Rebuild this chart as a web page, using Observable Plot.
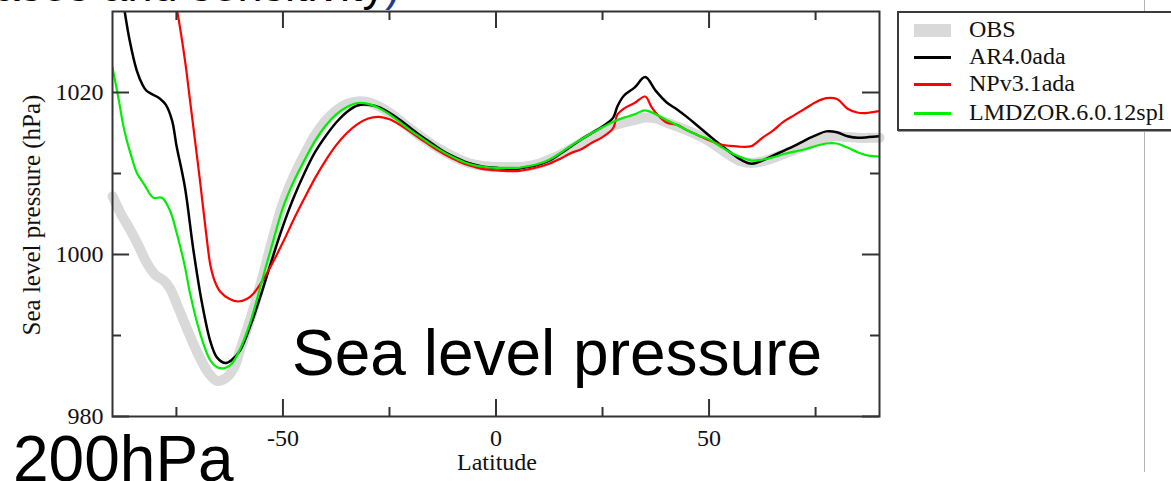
<!DOCTYPE html>
<html>
<head>
<meta charset="utf-8">
<script src="https://cdn.jsdelivr.net/npm/d3@7"></script>
<script src="https://cdn.jsdelivr.net/npm/@observablehq/plot@0.6"></script>
<style>
  html, body { margin: 0; padding: 0; background: #fff; }
  body { width: 1171px; height: 481px; overflow: hidden; position: relative; }
  #chart { position: absolute; left: 0; top: 0; }
  .big { position: absolute; font-family: "Liberation Sans", Arial, sans-serif; color: #000; white-space: nowrap; }
  #legend { position: absolute; left: 897px; top: 11px; width: 330px; height: 116px; border: 2px solid #3a3a3a;
            box-shadow: 1px 1px 0 #999; background: #fff; font-family: "Liberation Serif", serif; font-size: 24px; color: #111; z-index: 2; }
  .item { position: absolute; left: 0; height: 26px; }
  .sw { position: absolute; left: 15px; width: 37px; }
  .lab { position: absolute; left: 70px; top: -2px; line-height: 28px; white-space: nowrap; }
  #vline { position: absolute; left: 1144px; top: 0; width: 1px; height: 472px; background: #b5b5b5; z-index: 1; }
</style>
</head>
<body>
<div id="chart"></div>
<div id="vline"></div>
<div id="legend"></div>
<div class="big" style="right:771px; top:-37px; font-size:45px; line-height:45px;">(biases and sensitivity<span style="color:#1f3d8a">)</span></div>
<div class="big" style="left:292px; top:321px; font-size:64px; line-height:64px;">Sea level pressure</div>
<div class="big" style="left:13px; top:427px; font-size:64px; line-height:64px;">200hPa</div>
<script>
// ---- data ----
const seriesNames = ["OBS", "AR4.0ada", "NPv3.1ada", "LMDZOR.6.0.12spl"];

const obsLat = [-90,-88,-86,-84,-82,-80,-78,-76.5,-75,-72.5,-70,-67.5,-65.5,-63.5,-61.5,-60,-57.5,-55,-52.5,-50,-47.5,-45,-42.5,-40,-37.5,-35,-32.5,-30,-27.5,-25,-22.5,-20,-17.5,-15,-12.5,-10,-7.5,-5,-2.5,0,2.5,5,7.5,10,12.5,15,17.5,20,22.5,25,27.5,30,32.5,35,37.5,40,42.5,45,47.5,50,52.5,55,57.5,60,62.5,65,67.5,70,72.5,75,77.5,80,82.5,85,87.5,90];
const obsP   = [1007.2,1005,1003.2,1001.2,999,997.5,996.8,995.8,994,990.8,987.8,985.4,984.4,984.7,986.0,988.3,992.3,996.8,1001.8,1006.3,1009.6,1012.3,1014.7,1016.5,1017.8,1018.6,1018.9,1018.8,1018.3,1017.5,1016.5,1015.5,1014.5,1013.6,1012.8,1012.1,1011.5,1011.1,1010.9,1010.8,1010.8,1010.8,1010.9,1011.2,1011.7,1012.3,1013.0,1013.8,1014.6,1015.3,1015.9,1016.3,1016.6,1016.9,1016.8,1016.3,1015.8,1015.3,1014.7,1014.0,1013.1,1012.2,1011.5,1011.3,1011.5,1011.9,1012.4,1012.9,1013.4,1013.9,1014.4,1014.6,1014.5,1014.4,1014.4,1014.4];

const ar4Lat = [-88,-86,-84.3,-83,-82,-79,-77.5,-76,-75,-73,-71,-69,-67,-65.5,-63.5,-62,-60,-57.5,-55,-52.5,-50,-47.5,-45,-42.5,-40,-37.5,-35,-32.5,-30,-27.5,-25,-22.5,-20,-17.5,-15,-12.5,-10,-7.5,-5,-2.5,0,2.5,5,7.5,10,12.5,15,17.5,20,22.5,25,27.5,28.5,30,32.5,35,37.5,40,42.5,45,47.5,50,52.5,55,57.5,60,62.5,65,67.5,70,72.5,75,77.5,80,82.5,85,87.5,90];
const ar4P   = [1033,1026.5,1022.7,1021,1020.2,1019.3,1018.5,1016.5,1013.5,1008.3,1000.5,994,989.2,987.3,986.6,987.0,988.2,991.4,995.3,999.5,1003.5,1007.0,1010.0,1012.6,1014.6,1016.3,1017.6,1018.4,1018.5,1018.2,1017.5,1016.6,1015.6,1014.6,1013.7,1012.8,1012.1,1011.5,1011.1,1010.8,1010.7,1010.6,1010.6,1010.8,1011.1,1011.6,1012.4,1013.3,1014.2,1015.0,1015.8,1016.9,1018.3,1019.6,1020.6,1021.9,1020.2,1018.8,1017.9,1016.9,1015.8,1014.7,1013.6,1012.6,1011.7,1011.2,1011.6,1012.2,1012.8,1013.4,1014.1,1014.7,1015.2,1015.1,1014.6,1014.4,1014.5,1014.6];

const npLat = [-76,-74.8,-73,-71.8,-70.5,-69.4,-68,-67,-66,-64.7,-62.5,-60.5,-58.5,-56.9,-55,-53,-50,-47.5,-45,-42.5,-40,-37.5,-35,-32.5,-30,-27.5,-25,-22.5,-20,-17.5,-15,-12.5,-10,-7.5,-5,-2.5,0,2.5,5,7.5,10,12.5,15,17.5,20,22.5,25,27.5,28.5,30,32.5,35,36.5,37.5,40,42.5,45,47.5,50,52.5,55,57.5,60,62.5,65,67.5,70,72.5,75,77.5,80,82.5,85,87.5,90];
const npP   = [1033,1030,1024,1019,1013.5,1008.8,1002.5,998.6,996.7,995.4,994.5,994.2,994.5,995.2,996.6,998.4,1001.5,1004.3,1006.9,1009.4,1011.6,1013.5,1015.0,1016.1,1016.8,1017.0,1016.7,1016.0,1015.1,1014.2,1013.3,1012.5,1011.8,1011.2,1010.8,1010.5,1010.4,1010.3,1010.3,1010.5,1010.8,1011.2,1011.8,1012.5,1013.0,1013.8,1014.5,1015.6,1017.3,1018.0,1018.7,1019.5,1018.2,1017.5,1016.3,1016.0,1015.3,1014.7,1014.1,1013.6,1013.4,1013.3,1013.4,1014.4,1015.3,1016.4,1017.2,1018.0,1018.8,1019.3,1019.2,1018.0,1017.5,1017.5,1017.7];

const lmdLat = [-90,-88.5,-87.5,-86.6,-85.5,-84.3,-82.5,-80.4,-78.4,-76.5,-74.9,-73,-71.8,-69.4,-67,-65.1,-63.5,-62,-60,-57.5,-55,-52.5,-50,-47.5,-45,-42.5,-40,-37.5,-35,-32.5,-30,-27.5,-25,-22.5,-20,-17.5,-15,-12.5,-10,-7.5,-5,-2.5,0,2.5,5,7.5,10,12.5,15,17.5,20,22.5,25,27.5,30,32.5,35,37.5,40,42.5,45,47.5,50,52.5,55,57.5,60,62.5,65,67.5,70,72.5,75,77.5,80,82.5,85,87.5,90];
const lmdP   = [1023.1,1019,1016,1014,1012,1010.1,1008.6,1007.0,1007.0,1005.4,1002.6,998.5,995.2,990.2,986.9,986.0,986.0,986.5,988.4,991.9,996.6,1001.3,1005.8,1009.0,1011.6,1014.0,1015.9,1017.3,1018.2,1018.7,1018.6,1018.1,1017.3,1016.3,1015.3,1014.4,1013.5,1012.7,1012.0,1011.4,1011.0,1010.8,1010.7,1010.7,1010.7,1010.9,1011.2,1011.7,1012.5,1013.4,1014.2,1015.0,1015.7,1016.4,1016.9,1017.3,1017.8,1017.3,1016.6,1016.0,1015.3,1014.7,1014.2,1013.4,1012.6,1012.0,1011.6,1011.7,1012.0,1012.4,1012.7,1013.0,1013.4,1013.7,1013.7,1013.2,1012.6,1012.2,1012.1];

const xMajor = [-50, 0, 50];
const xMinor = [-75, -25, 25, 75];
const yMajor = [980, 1000, 1020];
const yMinor = [990, 1010];
const xTitle = "Latitude";
const yTitle = "Sea level pressure (hPa)";

// ---- styles ----
const colors = ["#d9d9d9", "#000000", "#ff0000", "#00ee00"];
const widths = [10, 2.5, 2.2, 2.2];

const toRows = (lat, p, name) => lat.map((d, i) => ({lat: d, p: p[i], series: name}));
const series = [
  toRows(obsLat, obsP, seriesNames[0]),
  toRows(ar4Lat, ar4P, seriesNames[1]),
  toRows(npLat, npP, seriesNames[2]),
  toRows(lmdLat, lmdP, seriesNames[3])
];

const W = 1171, H = 481, mL = 112, mR = 292, mT = 11, mB = 65;
const fw = W - mL - mR, fh = H - mT - mB;
const frameColor = "#333";
const fmt = d => String(d);

const chart = Plot.plot({
  width: W, height: H,
  marginLeft: mL, marginRight: mR, marginTop: mT, marginBottom: mB,
  x: {domain: [-90, 90]},
  y: {domain: [980, 1030]},
  style: {fontFamily: "'Liberation Serif', 'Times New Roman', serif", fontSize: "24px", color: "#111", background: "transparent", overflow: "visible"},
  marks: [
    Plot.line(series[0], {x: "lat", y: "p", stroke: colors[0], strokeWidth: widths[0], curve: "catmull-rom"}),
    ...series.slice(1).map((s, i) => Plot.line(s, {x: "lat", y: "p", stroke: colors[i + 1], strokeWidth: widths[i + 1], curve: "catmull-rom", clip: true})),
    // inward ticks on all four sides
    Plot.tickX(xMajor, {x: d => d, insetTop: fh - 17, stroke: frameColor, strokeWidth: 2}),
    Plot.tickX(xMajor, {x: d => d, insetBottom: fh - 17, stroke: frameColor, strokeWidth: 2}),
    Plot.tickX(xMinor, {x: d => d, insetTop: fh - 9, stroke: frameColor, strokeWidth: 2}),
    Plot.tickX(xMinor, {x: d => d, insetBottom: fh - 9, stroke: frameColor, strokeWidth: 2}),
    Plot.tickY(yMajor, {y: d => d, insetRight: fw - 17, stroke: frameColor, strokeWidth: 2}),
    Plot.tickY(yMajor, {y: d => d, insetLeft: fw - 17, stroke: frameColor, strokeWidth: 2}),
    Plot.tickY(yMinor, {y: d => d, insetRight: fw - 9, stroke: frameColor, strokeWidth: 2}),
    Plot.tickY(yMinor, {y: d => d, insetLeft: fw - 9, stroke: frameColor, strokeWidth: 2}),
    Plot.frame({stroke: frameColor, strokeWidth: 2}),
    Plot.axisX(xMajor, {anchor: "bottom", tickSize: 0, tickPadding: 12, label: null, tickFormat: fmt}),
    Plot.axisY(yMajor, {anchor: "left", tickSize: 0, tickPadding: 9, label: null, tickFormat: fmt}),
    Plot.text([xTitle], {text: d => d, frameAnchor: "bottom", textAnchor: "middle", dy: 46, dx: 1, lineAnchor: "middle"}),
    Plot.text([yTitle], {text: d => d, frameAnchor: "left", textAnchor: "middle", rotate: -90, dx: -81, dy: 1, lineAnchor: "middle", fontSize: 25})
  ]
});
document.getElementById("chart").appendChild(chart);

// ---- legend ----
const legend = document.getElementById("legend");
const rowY = [17, 44, 71, 100];
seriesNames.forEach((name, i) => {
  const item = document.createElement("div");
  item.className = "item";
  item.style.top = (rowY[i] - 13) + "px";
  const sw = document.createElement("div");
  sw.className = "sw";
  const h = i === 0 ? 13 : 3;
  sw.style.height = h + "px";
  sw.style.top = (13 - h / 2) + "px";
  sw.style.background = colors[i];
  const lab = document.createElement("div");
  lab.className = "lab";
  lab.textContent = name;
  item.appendChild(sw);
  item.appendChild(lab);
  legend.appendChild(item);
});
</script>
</body>
</html>
